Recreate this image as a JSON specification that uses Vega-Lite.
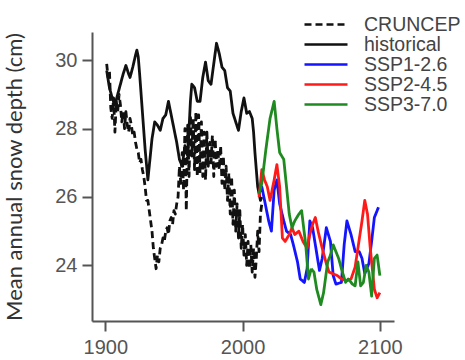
{
  "$schema": "https://vega.github.io/schema/vega-lite/v6.json",
  "width": 302,
  "height": 289,
  "autosize": {"type": "none"},
  "padding": {"left": 92, "top": 32, "right": 71, "bottom": 39},
  "background": "white",
  "config": {
    "view": {"stroke": null},
    "axis": {
      "grid": false,
      "domainColor": "#555",
      "domainWidth": 2,
      "tickColor": "#555",
      "tickWidth": 2,
      "tickSize": 10,
      "labelFont": "Liberation Sans",
      "labelFontSize": 20,
      "labelColor": "#555",
      "titleFont": "Lato",
      "titleFontSize": 22,
      "titleFontWeight": "normal",
      "titleColor": "#333"
    },
    "legend": {
      "labelFont": "Liberation Sans",
      "labelFontSize": 19.5,
      "labelColor": "#444"
    }
  },
  "data": {
    "values": [
      {"series": "CRUNCEP", "year": 1901, "value": 29.9},
      {"series": "CRUNCEP", "year": 1902, "value": 29.5},
      {"series": "CRUNCEP", "year": 1903, "value": 29.7},
      {"series": "CRUNCEP", "year": 1904, "value": 28.6},
      {"series": "CRUNCEP", "year": 1905, "value": 28.3},
      {"series": "CRUNCEP", "year": 1906, "value": 28.9},
      {"series": "CRUNCEP", "year": 1907, "value": 27.9},
      {"series": "CRUNCEP", "year": 1908, "value": 28.8},
      {"series": "CRUNCEP", "year": 1909, "value": 28.5},
      {"series": "CRUNCEP", "year": 1910, "value": 29.0},
      {"series": "CRUNCEP", "year": 1911, "value": 28.7},
      {"series": "CRUNCEP", "year": 1912, "value": 28.2},
      {"series": "CRUNCEP", "year": 1913, "value": 28.5},
      {"series": "CRUNCEP", "year": 1914, "value": 28.0},
      {"series": "CRUNCEP", "year": 1915, "value": 28.5},
      {"series": "CRUNCEP", "year": 1916, "value": 28.1},
      {"series": "CRUNCEP", "year": 1917, "value": 27.9},
      {"series": "CRUNCEP", "year": 1918, "value": 28.3},
      {"series": "CRUNCEP", "year": 1919, "value": 28.1},
      {"series": "CRUNCEP", "year": 1920, "value": 27.8},
      {"series": "CRUNCEP", "year": 1921, "value": 27.9},
      {"series": "CRUNCEP", "year": 1922, "value": 27.6},
      {"series": "CRUNCEP", "year": 1923, "value": 27.4},
      {"series": "CRUNCEP", "year": 1924, "value": 27.3},
      {"series": "CRUNCEP", "year": 1925, "value": 27.0},
      {"series": "CRUNCEP", "year": 1926, "value": 27.1},
      {"series": "CRUNCEP", "year": 1927, "value": 26.8},
      {"series": "CRUNCEP", "year": 1928, "value": 26.6},
      {"series": "CRUNCEP", "year": 1929, "value": 26.3},
      {"series": "CRUNCEP", "year": 1930, "value": 25.9},
      {"series": "CRUNCEP", "year": 1931, "value": 25.9},
      {"series": "CRUNCEP", "year": 1932, "value": 25.6},
      {"series": "CRUNCEP", "year": 1933, "value": 25.3},
      {"series": "CRUNCEP", "year": 1934, "value": 25.0},
      {"series": "CRUNCEP", "year": 1935, "value": 24.5},
      {"series": "CRUNCEP", "year": 1936, "value": 24.2},
      {"series": "CRUNCEP", "year": 1937, "value": 23.9},
      {"series": "CRUNCEP", "year": 1938, "value": 24.3},
      {"series": "CRUNCEP", "year": 1939, "value": 24.1},
      {"series": "CRUNCEP", "year": 1940, "value": 24.5},
      {"series": "CRUNCEP", "year": 1941, "value": 24.6},
      {"series": "CRUNCEP", "year": 1942, "value": 24.8},
      {"series": "CRUNCEP", "year": 1943, "value": 24.7},
      {"series": "CRUNCEP", "year": 1944, "value": 25.0},
      {"series": "CRUNCEP", "year": 1945, "value": 25.1},
      {"series": "CRUNCEP", "year": 1946, "value": 24.9},
      {"series": "CRUNCEP", "year": 1947, "value": 25.3},
      {"series": "CRUNCEP", "year": 1948, "value": 25.4},
      {"series": "CRUNCEP", "year": 1949, "value": 25.2},
      {"series": "CRUNCEP", "year": 1950, "value": 25.6},
      {"series": "CRUNCEP", "year": 1951, "value": 25.5},
      {"series": "CRUNCEP", "year": 1952, "value": 25.8},
      {"series": "CRUNCEP", "year": 1953, "value": 26.0},
      {"series": "CRUNCEP", "year": 1954, "value": 26.9},
      {"series": "CRUNCEP", "year": 1955, "value": 26.4},
      {"series": "CRUNCEP", "year": 1956, "value": 27.3},
      {"series": "CRUNCEP", "year": 1957, "value": 26.2},
      {"series": "CRUNCEP", "year": 1958, "value": 28.0},
      {"series": "CRUNCEP", "year": 1959, "value": 25.6},
      {"series": "CRUNCEP", "year": 1960, "value": 28.1},
      {"series": "CRUNCEP", "year": 1961, "value": 26.6},
      {"series": "CRUNCEP", "year": 1962, "value": 28.4},
      {"series": "CRUNCEP", "year": 1963, "value": 27.2},
      {"series": "CRUNCEP", "year": 1964, "value": 28.3},
      {"series": "CRUNCEP", "year": 1965, "value": 26.8},
      {"series": "CRUNCEP", "year": 1966, "value": 28.5},
      {"series": "CRUNCEP", "year": 1967, "value": 26.6},
      {"series": "CRUNCEP", "year": 1968, "value": 28.4},
      {"series": "CRUNCEP", "year": 1969, "value": 26.7},
      {"series": "CRUNCEP", "year": 1970, "value": 28.2},
      {"series": "CRUNCEP", "year": 1971, "value": 26.6},
      {"series": "CRUNCEP", "year": 1972, "value": 27.9},
      {"series": "CRUNCEP", "year": 1973, "value": 26.5},
      {"series": "CRUNCEP", "year": 1974, "value": 27.9},
      {"series": "CRUNCEP", "year": 1975, "value": 26.9},
      {"series": "CRUNCEP", "year": 1976, "value": 27.6},
      {"series": "CRUNCEP", "year": 1977, "value": 27.0},
      {"series": "CRUNCEP", "year": 1978, "value": 27.8},
      {"series": "CRUNCEP", "year": 1979, "value": 26.6},
      {"series": "CRUNCEP", "year": 1980, "value": 27.7},
      {"series": "CRUNCEP", "year": 1981, "value": 26.9},
      {"series": "CRUNCEP", "year": 1982, "value": 27.4},
      {"series": "CRUNCEP", "year": 1983, "value": 26.8},
      {"series": "CRUNCEP", "year": 1984, "value": 27.5},
      {"series": "CRUNCEP", "year": 1985, "value": 26.4},
      {"series": "CRUNCEP", "year": 1986, "value": 27.2},
      {"series": "CRUNCEP", "year": 1987, "value": 26.2},
      {"series": "CRUNCEP", "year": 1988, "value": 26.9},
      {"series": "CRUNCEP", "year": 1989, "value": 25.9},
      {"series": "CRUNCEP", "year": 1990, "value": 26.7},
      {"series": "CRUNCEP", "year": 1991, "value": 25.5},
      {"series": "CRUNCEP", "year": 1992, "value": 26.6},
      {"series": "CRUNCEP", "year": 1993, "value": 25.2},
      {"series": "CRUNCEP", "year": 1994, "value": 26.2},
      {"series": "CRUNCEP", "year": 1995, "value": 25.0},
      {"series": "CRUNCEP", "year": 1996, "value": 25.8},
      {"series": "CRUNCEP", "year": 1997, "value": 24.8},
      {"series": "CRUNCEP", "year": 1998, "value": 25.6},
      {"series": "CRUNCEP", "year": 1999, "value": 24.5},
      {"series": "CRUNCEP", "year": 2000, "value": 25.2},
      {"series": "CRUNCEP", "year": 2001, "value": 24.3},
      {"series": "CRUNCEP", "year": 2002, "value": 24.9},
      {"series": "CRUNCEP", "year": 2003, "value": 24.0},
      {"series": "CRUNCEP", "year": 2004, "value": 24.7},
      {"series": "CRUNCEP", "year": 2005, "value": 23.9},
      {"series": "CRUNCEP", "year": 2006, "value": 24.6},
      {"series": "CRUNCEP", "year": 2007, "value": 23.8},
      {"series": "CRUNCEP", "year": 2008, "value": 24.5},
      {"series": "CRUNCEP", "year": 2009, "value": 23.65},
      {"series": "CRUNCEP", "year": 2010, "value": 24.2},
      {"series": "CRUNCEP", "year": 2011, "value": 25.0},
      {"series": "CRUNCEP", "year": 2012, "value": 24.4},
      {"series": "CRUNCEP", "year": 2013, "value": 25.5},
      {"series": "CRUNCEP", "year": 2014, "value": 25.8},

      {"series": "historical", "year": 1901, "value": 29.7},
      {"series": "historical", "year": 1903, "value": 29.2},
      {"series": "historical", "year": 1905, "value": 28.9},
      {"series": "historical", "year": 1907, "value": 28.7},
      {"series": "historical", "year": 1909, "value": 29.0},
      {"series": "historical", "year": 1911, "value": 29.3},
      {"series": "historical", "year": 1913, "value": 29.6},
      {"series": "historical", "year": 1915, "value": 29.85},
      {"series": "historical", "year": 1917, "value": 29.6},
      {"series": "historical", "year": 1918, "value": 29.5},
      {"series": "historical", "year": 1920, "value": 29.8},
      {"series": "historical", "year": 1922, "value": 30.15},
      {"series": "historical", "year": 1923, "value": 30.3},
      {"series": "historical", "year": 1924, "value": 30.1},
      {"series": "historical", "year": 1925, "value": 29.6},
      {"series": "historical", "year": 1927, "value": 28.5},
      {"series": "historical", "year": 1929, "value": 27.4},
      {"series": "historical", "year": 1931, "value": 26.5},
      {"series": "historical", "year": 1932, "value": 26.9},
      {"series": "historical", "year": 1934, "value": 27.7},
      {"series": "historical", "year": 1936, "value": 28.2},
      {"series": "historical", "year": 1938, "value": 28.1},
      {"series": "historical", "year": 1940, "value": 27.95},
      {"series": "historical", "year": 1942, "value": 28.3},
      {"series": "historical", "year": 1944, "value": 28.4},
      {"series": "historical", "year": 1946, "value": 28.8},
      {"series": "historical", "year": 1948, "value": 28.4},
      {"series": "historical", "year": 1950, "value": 28.0},
      {"series": "historical", "year": 1952, "value": 27.6},
      {"series": "historical", "year": 1954, "value": 27.1},
      {"series": "historical", "year": 1956, "value": 26.9},
      {"series": "historical", "year": 1958, "value": 27.5},
      {"series": "historical", "year": 1960, "value": 27.2},
      {"series": "historical", "year": 1962, "value": 28.8},
      {"series": "historical", "year": 1963, "value": 29.3},
      {"series": "historical", "year": 1965, "value": 29.2},
      {"series": "historical", "year": 1967, "value": 28.8},
      {"series": "historical", "year": 1969, "value": 28.8},
      {"series": "historical", "year": 1971, "value": 29.5},
      {"series": "historical", "year": 1973, "value": 29.95},
      {"series": "historical", "year": 1975, "value": 29.4},
      {"series": "historical", "year": 1977, "value": 29.3},
      {"series": "historical", "year": 1979, "value": 29.9},
      {"series": "historical", "year": 1981, "value": 30.5},
      {"series": "historical", "year": 1983, "value": 30.2},
      {"series": "historical", "year": 1985, "value": 29.8},
      {"series": "historical", "year": 1987, "value": 29.7},
      {"series": "historical", "year": 1989, "value": 29.2},
      {"series": "historical", "year": 1991, "value": 29.1},
      {"series": "historical", "year": 1993, "value": 28.45},
      {"series": "historical", "year": 1995, "value": 28.2},
      {"series": "historical", "year": 1997, "value": 27.95},
      {"series": "historical", "year": 1999, "value": 28.5},
      {"series": "historical", "year": 2001, "value": 28.9},
      {"series": "historical", "year": 2003, "value": 28.45},
      {"series": "historical", "year": 2005, "value": 28.5},
      {"series": "historical", "year": 2007, "value": 28.3},
      {"series": "historical", "year": 2008, "value": 27.9},
      {"series": "historical", "year": 2009, "value": 27.3},
      {"series": "historical", "year": 2011, "value": 26.3},
      {"series": "historical", "year": 2013, "value": 25.9},
      {"series": "historical", "year": 2014, "value": 26.0},

      {"series": "SSP1-2.6", "year": 2012, "value": 26.1},
      {"series": "SSP1-2.6", "year": 2014, "value": 26.3},
      {"series": "SSP1-2.6", "year": 2017, "value": 25.7},
      {"series": "SSP1-2.6", "year": 2019, "value": 25.3},
      {"series": "SSP1-2.6", "year": 2021, "value": 25.0},
      {"series": "SSP1-2.6", "year": 2023, "value": 26.2},
      {"series": "SSP1-2.6", "year": 2025, "value": 26.5},
      {"series": "SSP1-2.6", "year": 2027, "value": 25.8},
      {"series": "SSP1-2.6", "year": 2030, "value": 25.3},
      {"series": "SSP1-2.6", "year": 2032, "value": 25.0},
      {"series": "SSP1-2.6", "year": 2035, "value": 24.9},
      {"series": "SSP1-2.6", "year": 2037, "value": 24.6},
      {"series": "SSP1-2.6", "year": 2040, "value": 24.1},
      {"series": "SSP1-2.6", "year": 2042, "value": 23.6},
      {"series": "SSP1-2.6", "year": 2045, "value": 23.5},
      {"series": "SSP1-2.6", "year": 2047, "value": 23.9},
      {"series": "SSP1-2.6", "year": 2049, "value": 25.3},
      {"series": "SSP1-2.6", "year": 2051, "value": 25.1},
      {"series": "SSP1-2.6", "year": 2053, "value": 24.6},
      {"series": "SSP1-2.6", "year": 2056, "value": 23.85},
      {"series": "SSP1-2.6", "year": 2058, "value": 24.2},
      {"series": "SSP1-2.6", "year": 2061, "value": 25.1},
      {"series": "SSP1-2.6", "year": 2064, "value": 24.7},
      {"series": "SSP1-2.6", "year": 2066, "value": 23.7},
      {"series": "SSP1-2.6", "year": 2068, "value": 23.45},
      {"series": "SSP1-2.6", "year": 2072, "value": 23.5},
      {"series": "SSP1-2.6", "year": 2074, "value": 24.6},
      {"series": "SSP1-2.6", "year": 2076, "value": 25.3},
      {"series": "SSP1-2.6", "year": 2079, "value": 24.9},
      {"series": "SSP1-2.6", "year": 2082, "value": 24.4},
      {"series": "SSP1-2.6", "year": 2085, "value": 24.4},
      {"series": "SSP1-2.6", "year": 2087, "value": 24.2},
      {"series": "SSP1-2.6", "year": 2089, "value": 23.76},
      {"series": "SSP1-2.6", "year": 2092, "value": 24.05},
      {"series": "SSP1-2.6", "year": 2094, "value": 24.7},
      {"series": "SSP1-2.6", "year": 2096, "value": 25.4},
      {"series": "SSP1-2.6", "year": 2099, "value": 25.7},

      {"series": "SSP2-4.5", "year": 2012, "value": 26.0},
      {"series": "SSP2-4.5", "year": 2014, "value": 26.8},
      {"series": "SSP2-4.5", "year": 2016, "value": 26.5},
      {"series": "SSP2-4.5", "year": 2018, "value": 26.3},
      {"series": "SSP2-4.5", "year": 2020, "value": 25.9},
      {"series": "SSP2-4.5", "year": 2023, "value": 26.5},
      {"series": "SSP2-4.5", "year": 2025, "value": 26.95},
      {"series": "SSP2-4.5", "year": 2027, "value": 26.3},
      {"series": "SSP2-4.5", "year": 2029, "value": 24.8},
      {"series": "SSP2-4.5", "year": 2031, "value": 24.7},
      {"series": "SSP2-4.5", "year": 2034, "value": 24.9},
      {"series": "SSP2-4.5", "year": 2036, "value": 25.1},
      {"series": "SSP2-4.5", "year": 2038, "value": 24.9},
      {"series": "SSP2-4.5", "year": 2041, "value": 25.0},
      {"series": "SSP2-4.5", "year": 2044, "value": 24.7},
      {"series": "SSP2-4.5", "year": 2047, "value": 24.5},
      {"series": "SSP2-4.5", "year": 2049, "value": 24.9},
      {"series": "SSP2-4.5", "year": 2051, "value": 25.2},
      {"series": "SSP2-4.5", "year": 2053, "value": 25.4},
      {"series": "SSP2-4.5", "year": 2055, "value": 25.0},
      {"series": "SSP2-4.5", "year": 2058, "value": 24.5},
      {"series": "SSP2-4.5", "year": 2061, "value": 24.05},
      {"series": "SSP2-4.5", "year": 2063, "value": 23.8},
      {"series": "SSP2-4.5", "year": 2066, "value": 23.75},
      {"series": "SSP2-4.5", "year": 2069, "value": 23.7},
      {"series": "SSP2-4.5", "year": 2072, "value": 23.6},
      {"series": "SSP2-4.5", "year": 2076, "value": 23.55},
      {"series": "SSP2-4.5", "year": 2079, "value": 23.6},
      {"series": "SSP2-4.5", "year": 2082, "value": 23.95},
      {"series": "SSP2-4.5", "year": 2084, "value": 24.5},
      {"series": "SSP2-4.5", "year": 2087, "value": 25.3},
      {"series": "SSP2-4.5", "year": 2089, "value": 25.9},
      {"series": "SSP2-4.5", "year": 2091, "value": 25.5},
      {"series": "SSP2-4.5", "year": 2093, "value": 24.5},
      {"series": "SSP2-4.5", "year": 2096, "value": 23.3},
      {"series": "SSP2-4.5", "year": 2098, "value": 23.05},
      {"series": "SSP2-4.5", "year": 2100, "value": 23.2},

      {"series": "SSP3-7.0", "year": 2012, "value": 26.1},
      {"series": "SSP3-7.0", "year": 2014, "value": 26.4},
      {"series": "SSP3-7.0", "year": 2017, "value": 27.4},
      {"series": "SSP3-7.0", "year": 2020, "value": 28.3},
      {"series": "SSP3-7.0", "year": 2023, "value": 28.8},
      {"series": "SSP3-7.0", "year": 2025, "value": 28.0},
      {"series": "SSP3-7.0", "year": 2027, "value": 27.3},
      {"series": "SSP3-7.0", "year": 2030, "value": 27.1},
      {"series": "SSP3-7.0", "year": 2032, "value": 26.3},
      {"series": "SSP3-7.0", "year": 2034, "value": 25.5},
      {"series": "SSP3-7.0", "year": 2036, "value": 25.1},
      {"series": "SSP3-7.0", "year": 2038, "value": 25.3},
      {"series": "SSP3-7.0", "year": 2041, "value": 25.5},
      {"series": "SSP3-7.0", "year": 2043, "value": 25.6},
      {"series": "SSP3-7.0", "year": 2046, "value": 24.6},
      {"series": "SSP3-7.0", "year": 2048, "value": 23.6},
      {"series": "SSP3-7.0", "year": 2050, "value": 23.9},
      {"series": "SSP3-7.0", "year": 2052, "value": 23.8},
      {"series": "SSP3-7.0", "year": 2054, "value": 23.3},
      {"series": "SSP3-7.0", "year": 2057, "value": 22.85},
      {"series": "SSP3-7.0", "year": 2059, "value": 23.2},
      {"series": "SSP3-7.0", "year": 2062, "value": 24.1},
      {"series": "SSP3-7.0", "year": 2064, "value": 24.3},
      {"series": "SSP3-7.0", "year": 2066, "value": 24.6},
      {"series": "SSP3-7.0", "year": 2068, "value": 24.4},
      {"series": "SSP3-7.0", "year": 2070, "value": 24.2},
      {"series": "SSP3-7.0", "year": 2072, "value": 23.9},
      {"series": "SSP3-7.0", "year": 2075, "value": 23.5},
      {"series": "SSP3-7.0", "year": 2077, "value": 23.6},
      {"series": "SSP3-7.0", "year": 2080, "value": 23.45},
      {"series": "SSP3-7.0", "year": 2082, "value": 23.4},
      {"series": "SSP3-7.0", "year": 2084, "value": 24.1},
      {"series": "SSP3-7.0", "year": 2086, "value": 23.4},
      {"series": "SSP3-7.0", "year": 2088, "value": 23.5},
      {"series": "SSP3-7.0", "year": 2090, "value": 24.0},
      {"series": "SSP3-7.0", "year": 2092, "value": 23.8},
      {"series": "SSP3-7.0", "year": 2094, "value": 23.1},
      {"series": "SSP3-7.0", "year": 2096, "value": 24.2},
      {"series": "SSP3-7.0", "year": 2098, "value": 24.3},
      {"series": "SSP3-7.0", "year": 2100, "value": 23.7}
    ]
  },
  "mark": {"type": "line", "strokeWidth": 2.8, "strokeCap": "butt", "strokeJoin": "round"},
  "encoding": {
    "x": {
      "field": "year",
      "type": "quantitative",
      "scale": {"domain": [1890.3, 2110.3], "nice": false, "zero": false},
      "axis": {"values": [1900, 2000, 2100], "format": "d", "title": null, "labelPadding": 6, "labelFlush": false}
    },
    "y": {
      "field": "value",
      "type": "quantitative",
      "scale": {"domain": [22.37, 30.83], "nice": false, "zero": false},
      "axis": {"values": [24, 26, 28, 30], "format": "d", "title": "Mean annual snow depth (cm)", "labelPadding": 5, "titlePadding": 28}
    },
    "color": {
      "field": "series",
      "type": "nominal",
      "sort": ["CRUNCEP", "historical", "SSP1-2.6", "SSP2-4.5", "SSP3-7.0"],
      "scale": {
        "domain": ["CRUNCEP", "historical", "SSP1-2.6", "SSP2-4.5", "SSP3-7.0"],
        "range": ["#111111", "#111111", "#1414ff", "#ff1a1a", "#1f8a1f"]
      },
      "legend": {
        "title": null,
        "orient": "none",
        "legendX": 211,
        "legendY": -17,
        "padding": 0,
        "symbolType": "stroke",
        "symbolSize": 1849,
        "symbolStrokeWidth": 2.6,
        "labelOffset": 15,
        "clipHeight": 19,
        "rowPadding": 0
      }
    },
    "strokeDash": {
      "field": "series",
      "type": "nominal",
      "sort": ["CRUNCEP", "historical", "SSP1-2.6", "SSP2-4.5", "SSP3-7.0"],
      "scale": {
        "domain": ["CRUNCEP", "historical", "SSP1-2.6", "SSP2-4.5", "SSP3-7.0"],
        "range": [[7, 4], [1, 0], [1, 0], [1, 0], [1, 0]]
      },
      "legend": {
        "title": null,
        "orient": "none",
        "legendX": 211,
        "legendY": -17,
        "padding": 0,
        "symbolType": "stroke",
        "symbolSize": 1849,
        "symbolStrokeWidth": 2.6,
        "labelOffset": 15,
        "clipHeight": 19,
        "rowPadding": 0
      }
    }
  }
}
